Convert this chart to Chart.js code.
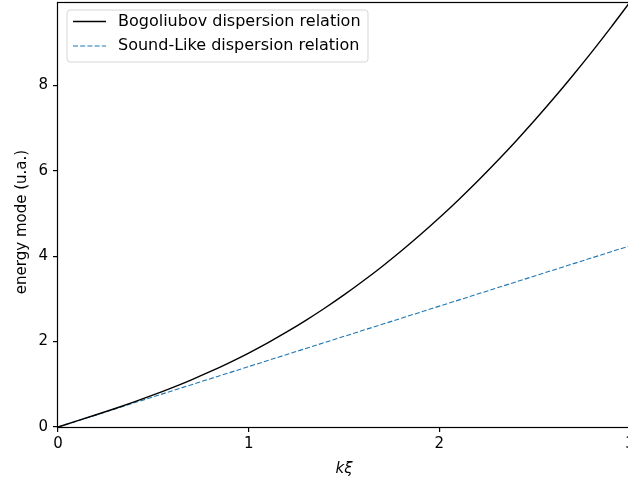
<!DOCTYPE html>
<html>
<head>
<meta charset="utf-8">
<script src="https://cdn.jsdelivr.net/npm/chart.js@4/dist/chart.umd.min.js"></script>
<style>
  html, body { margin: 0; padding: 0; background: #fff; overflow: hidden; }
  #wrap { width: 640px; height: 485px; }
</style>
</head>
<body>
<div id="wrap"><canvas id="chart" width="640" height="485"></canvas></div>
<script>
// k*xi samples and energies
const kXi = [0, 0.1, 0.2, 0.3, 0.4, 0.5, 0.6, 0.7, 0.8, 0.9, 1.0,
  1.1, 1.2, 1.3, 1.4, 1.5, 1.6, 1.7, 1.8, 1.9, 2.0,
  2.1, 2.2, 2.3, 2.4, 2.5, 2.6, 2.7, 2.8, 2.9, 3.0];
const bogoliubov = [0, 0.142, 0.286, 0.434, 0.588, 0.75, 0.922, 1.105, 1.300, 1.509, 1.732,
  1.971, 2.226, 2.497, 2.786, 3.092, 3.417, 3.759, 4.120, 4.500, 4.899,
  5.317, 5.754, 6.21, 6.686, 7.181, 7.695, 8.230, 8.783, 9.357, 9.950];
const soundK = [0, 3];
const soundLike = [0, 4.243];

const xTicks = [0, 1, 2, 3];
const yTicks = [0, 2, 4, 6, 8];
const yTitle = 'energy mode (u.a.)';

const FONT = 'DejaVu Sans';
const FS = 15;
const LEG_FS = 16;

const legendItems = [
  { label: 'Bogoliubov dispersion relation', color: '#000000', dash: [], width: 1.4 },
  { label: 'Sound-Like dispersion relation', color: '#1f77b4', dash: [5, 2.2], width: 1 }
];

// frame round the axes, y label, matplotlib-like legend box
const framePlugin = {
  id: 'frame',
  afterDraw(chart) {
    const { ctx, chartArea: a } = chart;
    ctx.save();
    ctx.strokeStyle = '#000';
    ctx.lineWidth = 1.2;
    ctx.strokeRect(a.left - 0.5, a.top + 0.5, a.right - a.left + 1, a.bottom - a.top);

    // y axis label (sits a bit below the axes centre in the reference)
    ctx.save();
    ctx.translate(22, 222);
    ctx.rotate(-Math.PI / 2);
    ctx.font = FS + 'px "' + FONT + '"';
    ctx.textAlign = 'center';
    ctx.textBaseline = 'middle';
    ctx.fillStyle = '#000';
    ctx.fillText(yTitle, 0, 0);
    ctx.restore();

    // legend
    const x0 = 67, y0 = 10, w = 301, h = 52, r = 3;
    ctx.beginPath();
    ctx.moveTo(x0 + r, y0);
    ctx.arcTo(x0 + w, y0, x0 + w, y0 + h, r);
    ctx.arcTo(x0 + w, y0 + h, x0, y0 + h, r);
    ctx.arcTo(x0, y0 + h, x0, y0, r);
    ctx.arcTo(x0, y0, x0 + w, y0, r);
    ctx.closePath();
    ctx.fillStyle = 'rgba(255,255,255,0.8)';
    ctx.fill();
    ctx.lineWidth = 1;
    ctx.strokeStyle = '#d6d6d6';
    ctx.stroke();

    ctx.font = LEG_FS + 'px "' + FONT + '"';
    ctx.textBaseline = 'middle';
    ctx.fillStyle = '#000';
    legendItems.forEach((it, i) => {
      const y = 21.5 + i * 24.5;
      ctx.beginPath();
      ctx.setLineDash(it.dash);
      ctx.strokeStyle = it.color;
      ctx.lineWidth = it.width;
      ctx.moveTo(73, y);
      ctx.lineTo(106, y);
      ctx.stroke();
      ctx.setLineDash([]);
      ctx.fillText(it.label, 118, y);
    });
    ctx.restore();
  }
};

new Chart(document.getElementById('chart'), {
  type: 'line',
  data: {
    datasets: [
      {
        label: 'Bogoliubov dispersion relation',
        data: kXi.map((k, i) => ({ x: k, y: bogoliubov[i] })),
        borderColor: '#000000',
        borderWidth: 1.4,
        pointRadius: 0,
        cubicInterpolationMode: 'monotone',
        fill: false
      },
      {
        label: 'Sound-Like dispersion relation',
        data: soundK.map((k, i) => ({ x: k, y: soundLike[i] })),
        borderColor: '#1f77b4',
        borderWidth: 1.1,
        borderDash: [5, 2.2],
        pointRadius: 0,
        fill: false
      }
    ]
  },
  options: {
    responsive: false,
    animation: false,
    layout: { padding: { left: 0, top: 2, right: 10, bottom: 0 } },
    plugins: {
      legend: { display: false },
      tooltip: { enabled: false }
    },
    scales: {
      x: {
        type: 'linear',
        min: 0,
        max: 3,
        afterFit: s => { s.height = 58; s.paddingLeft = 0; s.paddingRight = 0; },
        afterBuildTicks: s => { s.ticks = xTicks.map(v => ({ value: v })); },
        border: { display: false },
        grid: { drawOnChartArea: false, drawTicks: true, tickLength: 5, color: '#000', lineWidth: 1.2 },
        ticks: {
          color: '#000',
          padding: 3.5,
          maxRotation: 0,
          font: { family: FONT, size: FS }
        },
        title: {
          display: true,
          text: 'kξ',
          color: '#000',
          padding: { top: 0, bottom: 6.5 },
          font: { family: FONT, size: FS, style: 'italic' }
        }
      },
      y: {
        min: 0,
        max: 9.95,
        afterFit: s => { s.width = 58; s.paddingTop = 0; s.paddingBottom = 0; },
        afterBuildTicks: s => { s.ticks = yTicks.map(v => ({ value: v })); },
        border: { display: false },
        grid: { drawOnChartArea: false, drawTicks: true, tickLength: 5, color: '#000', lineWidth: 1.2 },
        ticks: {
          color: '#000',
          padding: 5,
          font: { family: FONT, size: FS }
        },
        title: { display: false }
      }
    }
  },
  plugins: [framePlugin]
});
</script>
</body>
</html>
